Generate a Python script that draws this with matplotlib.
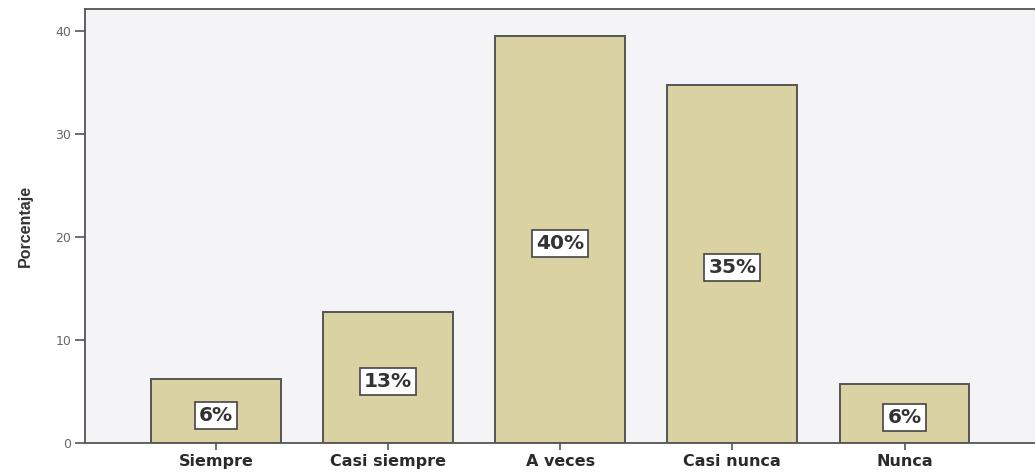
import matplotlib
matplotlib.use("Agg")
import matplotlib.pyplot as plt

categories = ["Siempre", "Casi siempre", "A veces", "Casi nunca", "Nunca"]
values = [6.2, 12.7, 39.5, 34.8, 5.7]
labels = ["6%", "13%", "40%", "35%", "6%"]
yticks = [0, 10, 20, 30, 40]

plt.rcParams['font.family'] = ['DejaVu Sans']

fig = plt.figure(figsize=(10.35, 4.75), dpi=100, facecolor="white")
ax = fig.add_axes([85/1035, 1 - 443/475, 1 - 85/1035 + 0.002, (443 - 9)/475])
ax.set_facecolor("#f4f4f6")

x = list(range(len(categories)))
ax.bar(x, values, width=0.755, color="#dbd2a4", edgecolor="#555555", linewidth=1.4, zorder=2)

for xi, v, lab in zip(x, values, labels):
    ax.text(xi, v * 0.5 - 0.4, lab, ha="center", va="center", fontsize=14.5,
            fontweight="bold", color="#333333", zorder=3,
            bbox=dict(boxstyle="square,pad=0.2", facecolor="white",
                      edgecolor="#444444", linewidth=1.2))

ax.set_xlim(-0.76, 4.77)
ax.set_ylim(0, 42.15)
ax.set_xticks(x)
ax.set_xticklabels(categories, fontsize=11.5, fontweight="bold", color="#2a2a2a")
ax.set_yticks(yticks)
ax.set_yticklabels([str(t) for t in yticks], fontsize=9, color="#666666")
ax.tick_params(axis="y", length=7, width=1.2, color="#555555", pad=3)
ax.tick_params(axis="x", length=5, width=1.2, color="#555555", pad=3)
ax.set_ylabel("Porcentaje", fontsize=11.5, fontweight="bold", color="#333333",
              family="Liberation Sans")
ax.yaxis.set_label_coords(-0.0547, 0.5)

for s in ["left", "top", "bottom"]:
    ax.spines[s].set_color("#555555")
    ax.spines[s].set_linewidth(1.3)
ax.spines["right"].set_visible(False)

fig.savefig("out.png", dpi=100, facecolor="white")
